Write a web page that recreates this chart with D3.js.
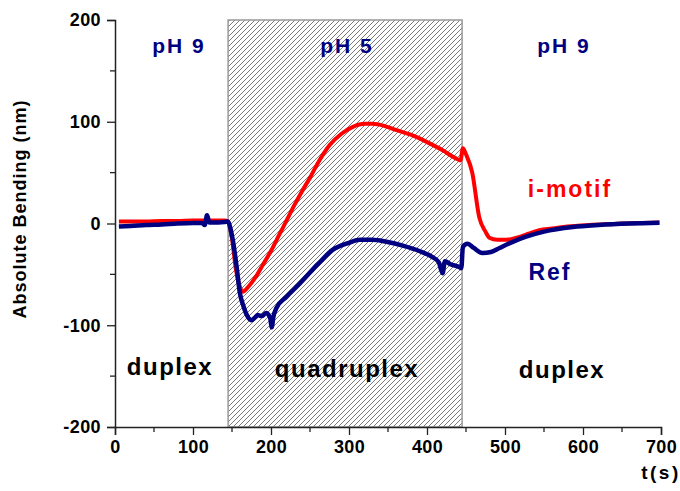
<!DOCTYPE html>
<html>
<head>
<meta charset="utf-8">
<script src="https://cdn.jsdelivr.net/npm/d3@7"></script>
<style>
  body { margin: 0; background: #fff; }
  text { font-family: "Liberation Sans", Arial, sans-serif; font-weight: bold; }
</style>
</head>
<body>
<script>
// i-motif (red) trace
var imotifT = [5,20,40,60,80,100,120,140,145,150,155,160,164,170,180,190,200,210,220,230,240,250,262,275,290,305,320,330,345,360,380,400,420,437,443,446,450,458,467,475,480,490,502,515,530,544,560,580,608,640,670,698];
var imotifV = [2,2,2,2.5,2.5,3,3,3,2,-15,-45,-62,-67,-63,-53,-40,-27,-12,3,18,32,45,62,77,88,95,98,98,96,92,87,80,72,64,62,74,68,50,6,-8,-14,-16,-16,-14,-10,-6.5,-5,-3,-1.5,-0.5,0.5,1];

// Ref (navy) trace
var refT = [5,20,40,60,80,100,112,115,118,121,125,140,145,148,151,156,160,165,169,175,180,183,188,194,199,201,203,207,220,237,260,279,300,314,330,348,370,390,407,415,420,423,430,442,444,446,452,460,471,482,493,510,527,550,587,620,660,698];
var refV = [-3,-2.5,-1.5,-1,0,0.5,0.5,-1.5,8,1,1,1.5,2,-5,-16,-43,-68,-82,-90,-95,-92,-90,-91,-88,-93,-102,-92,-83,-72,-59,-40,-26,-19,-16,-16,-18,-22,-27,-33,-38,-49,-37,-40,-43,-44,-23,-20,-24,-29,-28,-24,-18,-13,-8,-3.5,-1.5,0,0.8];

// acid window (pH 5)
var acidWindow = [145, 445];

var xTicks = [0,100,200,300,400,500,600,700];
var yTicks = [-200,-100,0,100,200];
var xMinor = [50,150,250,350,450,550,650];
var yMinor = [-150,-50,50,150];

var margin = { top: 20, right: 19, bottom: 64, left: 115 },
  width = 680 - margin.left - margin.right,
  height = 491 - margin.top - margin.bottom;

var svg = d3.select("body").append("svg")
  .attr("width", 680)
  .attr("height", 491);

// hatch pattern for the pH 5 block
var defs = svg.append("defs");
var pattern = defs.append("pattern")
  .attr("id", "hatch")
  .attr("width", 5)
  .attr("height", 5)
  .attr("patternUnits", "userSpaceOnUse");
pattern.append("path")
  .attr("d", "M0,5 L5,0 M-1,1 L1,-1 M4,6 L6,4")
  .attr("stroke", "#7a7a7a")
  .attr("stroke-width", 1);

var g = svg.append("g")
  .attr("transform", "translate(" + margin.left + "," + margin.top + ")");

var x = d3.scaleLinear().domain([0, 700]).range([0, width]);
var y = d3.scaleLinear().domain([-200, 200]).range([height, 0]);

g.append("rect")
  .attr("x", x(acidWindow[0]))
  .attr("y", y(200))
  .attr("width", x(acidWindow[1]) - x(acidWindow[0]))
  .attr("height", y(-200) - y(200))
  .attr("fill", "url(#hatch)")
  .attr("stroke", "#999")
  .attr("stroke-width", 1.5);

// axes (plain hyphen for negatives, like the original)
var fmt = d => String(d);

var xAxis = g.append("g")
  .attr("transform", "translate(0," + height + ")")
  .call(d3.axisBottom(x).tickValues(xTicks).tickFormat(fmt).tickSize(8).tickPadding(5));
xAxis.selectAll(".minor").data(xMinor).enter().append("line")
  .attr("class", "minor")
  .attr("x1", d => x(d)).attr("x2", d => x(d))
  .attr("y1", 0).attr("y2", 5)
  .attr("stroke", "#222").attr("stroke-width", 1.3);

var yAxis = g.append("g")
  .call(d3.axisLeft(y).tickValues(yTicks).tickFormat(fmt).tickSize(8).tickPadding(6));
yAxis.selectAll(".minor").data(yMinor).enter().append("line")
  .attr("class", "minor")
  .attr("x1", 0).attr("x2", -5)
  .attr("y1", d => y(d)).attr("y2", d => y(d))
  .attr("stroke", "#222").attr("stroke-width", 1.3);

[xAxis, yAxis].forEach(function (ax) {
  ax.select(".domain").attr("stroke", "#222").attr("stroke-width", 1.5);
  ax.selectAll(".tick line").attr("stroke", "#222").attr("stroke-width", 1.3);
  ax.selectAll(".tick text")
    .attr("fill", "#000")
    .style("font-size", "18px")
    .style("letter-spacing", "0.4px")
    .style("font-family", "'Liberation Sans', Arial, sans-serif")
    .style("font-weight", "bold");
});

// traces
var line = d3.line()
  .x(d => x(d[0]))
  .y(d => y(d[1]))
  .curve(d3.curveMonotoneX);

g.append("path")
  .datum(d3.zip(imotifT, imotifV))
  .attr("d", line)
  .attr("fill", "none")
  .attr("stroke", "#ff0000")
  .attr("stroke-width", 4)
  .attr("stroke-linejoin", "round");

g.append("path")
  .datum(d3.zip(refT, refV))
  .attr("d", line)
  .attr("fill", "none")
  .attr("stroke", "#000080")
  .attr("stroke-width", 4.5)
  .attr("stroke-linejoin", "round");

// annotations
function label(px, py, txt, color, size, spacing) {
  svg.append("text")
    .attr("x", px)
    .attr("y", py)
    .attr("text-anchor", "middle")
    .attr("fill", color)
    .style("font-size", size + "px")
    .style("letter-spacing", spacing + "px")
    .text(txt);
}

label(179, 53, "pH 9", "#000080", 21, 2);
label(347, 53, "pH 5", "#000080", 21, 2);
label(564, 53, "pH 9", "#000080", 21, 2);
label(170, 375, "duplex", "#000", 24, 1.5);
label(347, 377, "quadruplex", "#000", 24, 1.5);
label(562, 378, "duplex", "#000", 24, 1.5);
label(570, 197, "i-motif", "#ff0000", 23, 2);
label(550, 280, "Ref", "#000080", 23, 2);
label(661, 479, "t(s)", "#000", 19, 2.5);

svg.append("text")
  .attr("transform", "translate(26,209) rotate(-90)")
  .attr("text-anchor", "middle")
  .attr("fill", "#000")
  .style("font-size", "18px")
  .style("letter-spacing", "1px")
  .text("Absolute Bending (nm)");
</script>
</body>
</html>
